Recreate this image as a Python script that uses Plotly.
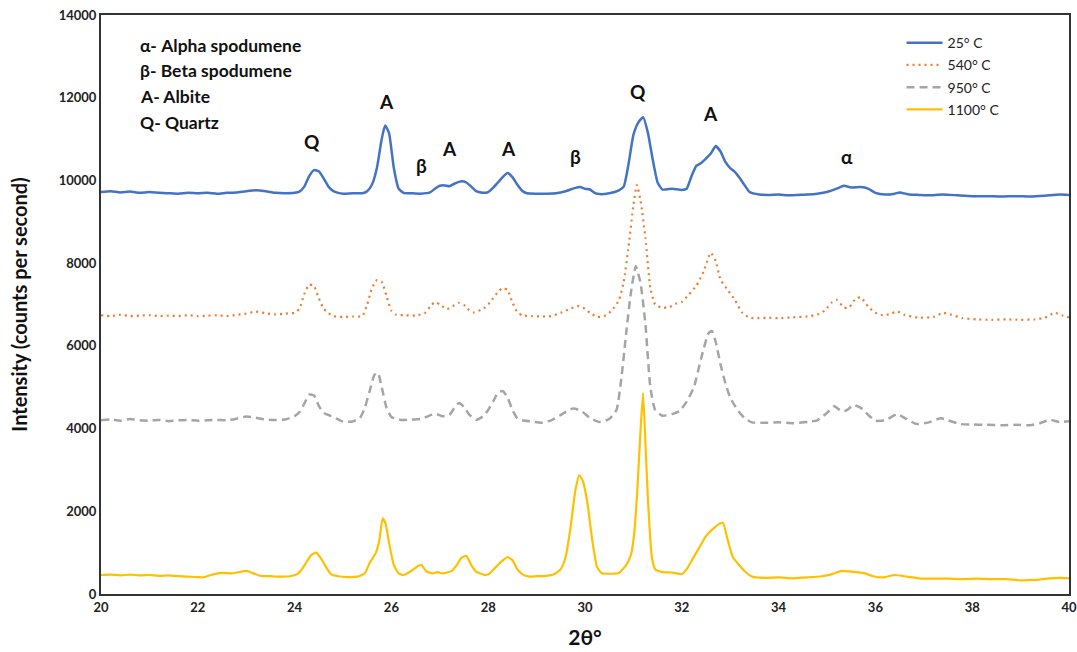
import plotly.graph_objects as go

# ---- data ----
x_25 = [20.0,20.2,20.4,20.6,20.8,21.0,21.2,21.4,21.6,21.8,22.0,22.2,22.4,22.6,22.8,23.0,23.2,23.4,23.6,23.8,
        24.0,24.1,24.2,24.3,24.4,24.5,24.6,24.7,24.8,24.9,25.0,25.2,25.4,25.5,25.6,25.7,25.8,25.87,25.95,26.05,
        26.15,26.25,26.4,26.6,26.8,26.9,27.0,27.1,27.2,27.3,27.45,27.55,27.65,27.75,27.9,28.0,28.1,28.2,28.3,28.4,
        28.5,28.6,28.7,28.8,29.0,29.2,29.4,29.6,29.8,29.9,30.0,30.1,30.2,30.3,30.5,30.7,30.8,30.9,31.0,31.1,
        31.2,31.3,31.4,31.5,31.6,31.8,32.0,32.1,32.2,32.3,32.4,32.5,32.6,32.7,32.8,32.9,33.0,33.1,33.2,33.3,
        33.4,33.6,33.8,34.0,34.2,34.4,34.6,34.8,35.0,35.2,35.35,35.5,35.7,35.85,36.0,36.2,36.4,36.5,36.7,36.9,
        37.1,37.4,37.7,38.0,38.3,38.6,38.9,39.2,39.5,39.8,40.0]
y_25 = [9720,9740,9710,9730,9700,9720,9700,9690,9680,9700,9690,9700,9680,9700,9710,9740,9760,9740,9700,9690,
        9700,9730,9850,10100,10250,10220,10050,9850,9740,9700,9680,9690,9690,9740,9900,10300,11000,11330,11150,10300,
        9800,9700,9690,9680,9710,9800,9870,9880,9860,9920,9980,9950,9850,9740,9700,9720,9820,9950,10080,10180,
        10080,9900,9750,9690,9680,9680,9690,9740,9820,9840,9800,9780,9700,9670,9690,9760,9850,10400,11100,11400,
        11530,11150,10500,9950,9780,9800,9770,9800,10100,10350,10420,10530,10650,10830,10700,10450,10300,10200,10050,9880,
        9720,9660,9650,9660,9640,9650,9660,9680,9720,9800,9870,9830,9840,9800,9700,9660,9680,9710,9660,9650,
        9640,9660,9640,9620,9620,9610,9620,9610,9630,9660,9650]

x_540 = [20.0,20.2,20.4,20.6,20.8,21.0,21.2,21.4,21.6,21.8,22.0,22.2,22.4,22.6,22.8,23.0,23.2,23.4,23.6,23.8,
         24.0,24.1,24.2,24.3,24.4,24.5,24.6,24.7,24.8,25.0,25.2,25.4,25.5,25.6,25.7,25.8,25.9,26.0,26.1,26.3,
         26.5,26.7,26.8,26.9,27.0,27.15,27.3,27.4,27.5,27.6,27.7,27.9,28.0,28.1,28.2,28.3,28.4,28.5,28.6,28.7,
         28.9,29.1,29.3,29.5,29.7,29.85,30.0,30.1,30.25,30.4,30.55,30.7,30.8,30.9,31.0,31.07,31.15,31.25,31.35,31.45,
         31.6,31.75,31.9,32.0,32.15,32.3,32.45,32.6,32.7,32.8,32.95,33.1,33.25,33.4,33.6,33.8,34.0,34.3,34.6,34.8,
         34.95,35.1,35.2,35.35,35.45,35.6,35.7,35.85,36.0,36.15,36.3,36.45,36.6,36.9,37.2,37.4,37.55,37.8,38.1,38.4,
         38.7,39.0,39.3,39.5,39.7,39.85,40.0]
y_540 = [6740,6720,6750,6720,6730,6740,6720,6730,6720,6740,6720,6730,6740,6720,6750,6780,6830,6790,6760,6780,
         6800,6900,7250,7480,7450,7150,6900,6790,6720,6700,6710,6720,7000,7400,7590,7550,7200,6850,6750,6740,
         6730,6800,6950,7060,7000,6890,6980,7040,6990,6870,6810,6900,7000,7150,7300,7400,7350,7050,6820,6740,
         6720,6710,6720,6800,6900,6960,6900,6800,6700,6720,6850,7100,7550,8400,9400,9890,9500,8600,7400,7000,
         6920,6940,7030,7060,7250,7450,7800,8250,8050,7600,7350,7100,6800,6680,6670,6680,6670,6690,6710,6760,
         6850,7050,7110,6930,6920,7150,7170,6950,6800,6740,6770,6830,6750,6680,6700,6800,6760,6670,6640,6630,
         6640,6630,6640,6680,6800,6740,6690]

x_950 = [20.0,20.2,20.4,20.6,20.8,21.0,21.2,21.4,21.6,21.8,22.0,22.2,22.4,22.6,22.8,23.0,23.2,23.4,23.6,23.8,
         24.0,24.1,24.2,24.3,24.4,24.5,24.6,24.8,25.0,25.2,25.35,25.45,25.55,25.65,25.72,25.8,25.9,26.0,26.2,26.4,
         26.6,26.8,26.9,27.05,27.2,27.3,27.4,27.5,27.6,27.75,27.9,28.0,28.1,28.2,28.3,28.4,28.5,28.6,28.7,28.9,
         29.1,29.3,29.5,29.7,29.8,29.95,30.1,30.3,30.5,30.65,30.75,30.85,30.95,31.05,31.15,31.25,31.35,31.45,31.6,31.8,
         31.95,32.1,32.25,32.4,32.55,32.62,32.7,32.8,32.9,33.0,33.15,33.3,33.45,33.7,34.0,34.3,34.6,34.8,35.0,35.15,
         35.3,35.4,35.55,35.7,35.85,36.0,36.2,36.45,36.6,36.85,37.1,37.35,37.5,37.75,38.0,38.3,38.6,38.9,39.2,39.4,
         39.6,39.8,40.0]
y_950 = [4200,4220,4190,4230,4200,4190,4210,4180,4200,4210,4190,4200,4210,4200,4240,4290,4260,4220,4210,4220,
         4300,4400,4600,4820,4800,4550,4380,4280,4170,4170,4260,4500,4900,5300,5350,5000,4500,4280,4210,4220,
         4230,4320,4360,4300,4330,4500,4620,4520,4350,4210,4300,4450,4650,4860,4910,4750,4450,4250,4200,4170,
         4140,4200,4330,4470,4480,4400,4260,4160,4230,4450,5200,6300,7300,7930,7500,6500,5000,4450,4310,4350,
         4420,4650,5000,5700,6300,6360,6100,5550,5100,4750,4450,4250,4150,4140,4150,4130,4160,4200,4380,4540,
         4420,4440,4570,4500,4330,4190,4200,4350,4260,4110,4150,4250,4200,4110,4100,4090,4080,4090,4080,4130,
         4210,4160,4180]

x_1100 = [20.0,20.2,20.4,20.6,20.8,21.0,21.2,21.4,21.6,21.8,22.0,22.1,22.3,22.5,22.7,22.9,23.0,23.1,23.3,23.5,
          23.7,23.9,24.05,24.15,24.25,24.35,24.45,24.55,24.65,24.75,24.9,25.1,25.3,25.45,25.55,25.68,25.75,25.82,25.88,25.95,
          26.05,26.15,26.25,26.4,26.55,26.62,26.72,26.85,26.95,27.05,27.15,27.25,27.35,27.45,27.55,27.65,27.75,27.9,28.0,28.1,
          28.25,28.4,28.5,28.6,28.7,28.85,29.0,29.2,29.35,29.5,29.6,29.7,29.8,29.88,29.95,30.05,30.15,30.25,30.35,30.5,
          30.7,30.85,30.95,31.02,31.08,31.14,31.2,31.25,31.3,31.38,31.45,31.6,31.8,32.0,32.1,32.2,32.35,32.5,32.65,32.78,
          32.85,32.95,33.05,33.15,33.3,33.45,33.7,34.0,34.3,34.6,34.9,35.1,35.3,35.5,35.75,35.95,36.15,36.4,36.6,36.9,
          37.2,37.5,37.8,38.1,38.4,38.7,39.0,39.3,39.6,39.8,40.0]
y_1100 = [460,470,450,470,450,460,440,450,430,420,410,400,470,510,500,540,560,520,440,430,
          420,430,480,600,780,950,1000,850,650,480,430,410,420,500,750,1000,1300,1830,1700,1250,
          700,500,460,550,680,700,550,500,530,500,520,560,700,880,920,700,540,470,470,580,
          760,890,820,600,480,420,430,440,470,600,900,1600,2500,2870,2750,2200,1300,650,500,490,
          510,700,950,1500,2500,3800,4860,3600,2300,900,600,530,520,480,600,800,1100,1400,1580,1700,
          1720,1300,900,750,550,420,390,400,380,400,430,480,560,540,510,430,400,460,430,380,
          370,370,360,370,360,360,330,340,380,390,380]

series_names = ["25° C", "540° C", "950° C", "1100° C"]
series_colors = ["#4472C4", "#ED7D31", "#A5A5A5", "#FFC000"]

x_ticks = [20, 22, 24, 26, 28, 30, 32, 34, 36, 38, 40]
y_ticks = [0, 2000, 4000, 6000, 8000, 10000, 12000, 14000]

peak_labels = ["Q", "A", "β", "A", "A", "β", "Q", "A", "α"]
peak_x = [24.36, 25.89, 26.63, 27.19, 28.41, 29.81, 31.10, 32.60, 35.41]
peak_y = [10930, 11900, 10370, 10780, 10780, 10590, 12140, 11630, 10590]

key_lines = ["α- Alpha spodumene", "β- Beta spodumene", "A- Albite", "Q- Quartz"]
key_y = [13270, 12670, 12020, 11390]

FONT = "Lato"

fig = go.Figure()
xs = [x_25, x_540, x_950, x_1100]
ys = [y_25, y_540, y_950, y_1100]
dashes = ["solid", "2px,4px", "8px,5px", "solid"]
widths = [2.5, 2.2, 2.5, 2.2]
for i, (xv, yv, name, col, d, w) in enumerate(zip(xs, ys, series_names, series_colors, dashes, widths)):
    fig.add_trace(go.Scatter(x=xv, y=yv, mode="lines", name=name, legendgroup=f"g{i}",
                             line=dict(color=col, width=w, dash=d, shape="spline", smoothing=0.5)))

for t, px, py in zip(peak_labels, peak_x, peak_y):
    fig.add_annotation(x=px, y=py, text=f"<b>{t}</b>", showarrow=False,
                       font=dict(family=FONT, size=19, color="#111111"))

for t, py in zip(key_lines, key_y):
    fig.add_annotation(x=20.76, y=py, text=f"<b>{t}</b>", showarrow=False, xanchor="left",
                       font=dict(family=FONT, size=17.5, color="#111111"))

fig.update_layout(
    width=1077, height=652,
    margin=dict(l=101, r=8, t=15, b=58, autoexpand=False),
    paper_bgcolor="white", plot_bgcolor="white",
    font=dict(family=FONT, color="#222222"),
    legend=dict(x=0.827, y=0.979, xanchor="left", yanchor="top",
                bgcolor="rgba(0,0,0,0)", font=dict(family=FONT, size=14, color="#222222"),
                tracegroupgap=1, itemwidth=36),
    xaxis=dict(range=[20, 40], tickvals=x_ticks, ticktext=[f"<b>{v}</b>" for v in x_ticks],
               showgrid=False, zeroline=False, showline=True, linecolor="#333333", linewidth=2,
               mirror=True, ticks="", automargin=False, tickfont=dict(family=FONT, size=13, color="#222222"),
               title=dict(text="<b>2θ°</b>", font=dict(family=FONT, size=21, color="#111111"), standoff=17)),
    yaxis=dict(range=[0, 14000], tickvals=y_ticks, ticktext=[f"<b>{v}</b>" for v in y_ticks],
               showgrid=False, zeroline=False, showline=True, linecolor="#333333", linewidth=2,
               mirror=True, ticks="", automargin=False, tickfont=dict(family=FONT, size=13, color="#222222"),
               title=dict(text="<b>Intensity (counts per second)</b>",
                          font=dict(family=FONT, size=20, color="#111111"), standoff=26)),
)

fig.write_html("out.html")
